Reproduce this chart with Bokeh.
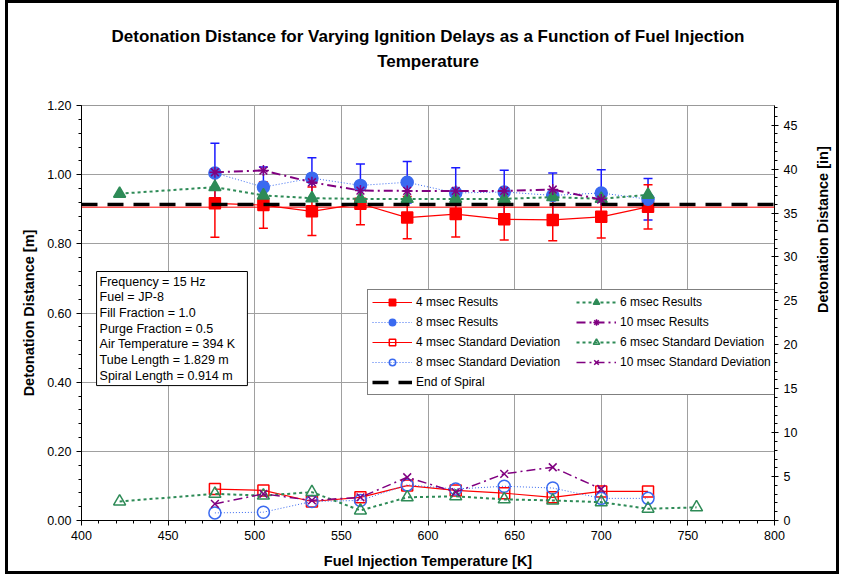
import math
from bokeh.plotting import figure
from bokeh.models import (Range1d, LinearAxis, Legend, LegendItem, Whisker, ColumnDataSource,
                          Label, Span, TeeHead, SingleIntervalTicker, FixedTicker, NumeralTickFormatter)
from bokeh.embed import file_html
from bokeh.resources import INLINE

# ---------------- data ----------------
temps = [477, 505, 533, 561, 588, 616, 644, 672, 700, 727]
temps_6 = [422, 477, 505, 533, 561, 588, 616, 644, 672, 700, 727]
temps_6_std = [422, 477, 505, 533, 561, 588, 616, 644, 672, 700, 727, 755]
temps_10 = [477, 505, 533, 561, 588, 616, 644, 672, 700]

res_4 = [0.917, 0.912, 0.894, 0.916, 0.876, 0.886, 0.871, 0.869, 0.878, 0.907]
err_4 = [0.098, 0.067, 0.070, 0.061, 0.061, 0.066, 0.060, 0.060, 0.061, 0.064]
res_8 = [1.005, 0.964, 0.990, 0.969, 0.978, 0.947, 0.950, 0.940, 0.947, 0.929]
err_8 = [0.086, 0.058, 0.059, 0.062, 0.060, 0.073, 0.063, 0.065, 0.067, 0.060]
res_6 = [0.945, 0.964, 0.940, 0.932, 0.930, 0.930, 0.930, 0.930, 0.935, 0.930, 0.942]
res_10 = [1.007, 1.012, 0.978, 0.954, 0.953, 0.953, 0.953, 0.957, 0.928]

std_4 = [0.091, 0.087, 0.055, 0.067, 0.101, 0.087, 0.079, 0.067, 0.084, 0.084]
std_8 = [0.022, 0.024, 0.055, 0.058, 0.103, 0.091, 0.099, 0.094, 0.064, 0.064]
std_6 = [0.055, 0.077, 0.072, 0.082, 0.029, 0.067, 0.070, 0.061, 0.058, 0.053, 0.034, 0.038]
std_10 = [0.048, 0.077, 0.058, 0.067, 0.125, 0.082, 0.135, 0.154, 0.091]

spiral_end = 0.914
red_ref = 0.906
x_limits = [400, 800]
y_limits = [0.0, 1.2]
y_ticks = [0.0, 0.2, 0.4, 0.6, 0.8, 1.0, 1.2]
m_to_in = 1 / 0.0254

title_lines = ["Detonation Distance for Varying Ignition Delays as a Function of Fuel Injection",
               "Temperature"]
info_lines = ["Frequency = 15 Hz", "Fuel = JP-8", "Fill Fraction = 1.0", "Purge Fraction = 0.5",
              "Air Temperature = 394 K", "Tube Length = 1.829 m", "Spiral Length = 0.914 m"]

FONT = "Liberation Sans"
RED = "#FF0000"
BLUE = "#3A6AF0"
BLUE_BAR = "#1A1AFF"
GREEN = "#2E8B57"
PURPLE = "#800080"

# ---------------- figure ----------------
p = figure(width=834, height=574, output_backend="svg", toolbar_location=None,
           x_range=Range1d(*x_limits), y_range=Range1d(*y_limits), title=None)
p.styles = {"margin-left": "5px", "border": "3px solid black"}
p.min_border_left = 73
p.min_border_right = 61
p.min_border_top = 102
p.min_border_bottom = 57
p.background_fill_color = "white"
p.border_fill_color = "white"
p.outline_line_color = "#999999"

bottom_axis = p.xaxis[0]
left_axis = p.yaxis[0]

minor_y = [round(i * 0.04, 2) for i in range(31)]
bottom_axis.ticker = SingleIntervalTicker(interval=50, num_minor_ticks=5)
left_axis.ticker = FixedTicker(ticks=y_ticks, minor_ticks=minor_y)
left_axis.formatter = NumeralTickFormatter(format="0.00")
bottom_axis.axis_label = "Fuel Injection Temperature [K]"
left_axis.axis_label = "Detonation Distance [m]"

p.extra_y_ranges = {"inch": Range1d(y_limits[0] * m_to_in, y_limits[1] * m_to_in)}
right_axis = LinearAxis(y_range_name="inch", axis_label="Detonation Distance [in]",
                        ticker=SingleIntervalTicker(interval=5, num_minor_ticks=5))
p.add_layout(right_axis, "right")
if "axis_label_orientation" in right_axis.properties():
    right_axis.axis_label_orientation = math.pi / 2

for ax in [bottom_axis, left_axis, right_axis]:
    ax.axis_line_color = "black"
    ax.major_tick_line_color = "black"
    ax.minor_tick_line_color = "black"
    ax.major_label_text_font = FONT
    ax.major_label_text_font_size = "12.5px"
    ax.major_label_text_color = "black"
    ax.axis_label_text_font = FONT
    ax.axis_label_text_font_size = "14.5px"
    ax.axis_label_text_font_style = "bold"
    ax.axis_label_text_color = "black"
    ax.major_tick_out = 5
    ax.major_tick_in = 0
    ax.minor_tick_out = 3
    ax.minor_tick_in = 0
right_axis.major_tick_in = 3
right_axis.major_tick_out = 4
bottom_axis.axis_label_standoff = 10
left_axis.axis_label_standoff = 7
right_axis.axis_label_standoff = 23

# chart title: two centred lines, drawn as labels of bare axes above the frame
for txt, stand in [(title_lines[1], 35), (title_lines[0], 3)]:
    tax = LinearAxis(ticker=FixedTicker(ticks=[]), axis_label=txt)
    tax.axis_line_color = None
    tax.major_tick_line_color = None
    tax.minor_tick_line_color = None
    tax.major_tick_out = 0
    tax.major_tick_in = 0
    tax.minor_tick_out = 0
    tax.minor_tick_in = 0
    tax.major_label_text_font_size = "0px"
    tax.axis_label_standoff = stand
    tax.axis_label_text_font = FONT
    tax.axis_label_text_font_size = "17px"
    tax.axis_label_text_font_style = "bold"
    tax.axis_label_text_color = "black"
    p.add_layout(tax, "above")

p.xgrid.grid_line_color = "#A0A0A0"
p.ygrid.grid_line_color = "#A0A0A0"
p.xgrid.grid_line_width = 1
p.ygrid.grid_line_width = 1

# red reference line across the plot
p.add_layout(Span(location=red_ref, dimension="width", line_color=RED, line_width=1))

# ---------------- error bars ----------------
src4 = ColumnDataSource(dict(x=temps, lower=[a - b for a, b in zip(res_4, err_4)],
                             upper=[a + b for a, b in zip(res_4, err_4)]))
src8 = ColumnDataSource(dict(x=temps, lower=[a - b for a, b in zip(res_8, err_8)],
                             upper=[a + b for a, b in zip(res_8, err_8)]))
w8 = Whisker(source=src8, base="x", lower="lower", upper="upper", line_color=BLUE_BAR, line_width=1.5,
             upper_head=TeeHead(size=9, line_color=BLUE_BAR, line_width=1.5),
             lower_head=TeeHead(size=9, line_color=BLUE_BAR, line_width=1.5))
w4 = Whisker(source=src4, base="x", lower="lower", upper="upper", line_color=RED, line_width=1.5,
             upper_head=TeeHead(size=9, line_color=RED, line_width=1.5),
             lower_head=TeeHead(size=9, line_color=RED, line_width=1.5))
p.add_layout(w8)
p.add_layout(w4)

# ---------------- series ----------------
items = {}

def series(key, xs, ys, color, dash, lw, marker, size, filled):
    l = p.line(xs, ys, line_color=color, line_dash=dash, line_width=lw)
    s = p.scatter(xs, ys, marker=marker, size=size, line_color=color, line_width=1.5,
                  fill_color=color if filled else None)
    items[key] = [l, s]

series("4r", temps, res_4, RED, "solid", 1.2, "square", 11, True)
series("8r", temps, res_8, BLUE, "1 2", 1, "circle", 12, True)
series("6r", temps_6, res_6, GREEN, "3 3", 2, "triangle", 12, True)
series("10r", temps_10, res_10, PURPLE, "9 4 2 4", 2, "asterisk", 11, False)
series("4s", temps, std_4, RED, "solid", 1.2, "square", 11, False)
series("8s", temps, std_8, BLUE, "1 2", 1, "circle", 12, False)
series("6s", temps_6_std, std_6, GREEN, "3 3", 2, "triangle", 12, False)
series("10s", temps_10, std_10, PURPLE, "9 4 2 4", 1.5, "x", 11, False)

spiral = p.line(x_limits, [spiral_end, spiral_end], line_color="black", line_width=3.5, line_dash="16 10")
items["sp"] = [spiral]

legend = Legend(items=[
    LegendItem(label="4 msec Results", renderers=items["4r"]),
    LegendItem(label="8 msec Results", renderers=items["8r"]),
    LegendItem(label="4 msec Standard Deviation", renderers=items["4s"]),
    LegendItem(label="8 msec Standard Deviation", renderers=items["8s"]),
    LegendItem(label="End of Spiral", renderers=items["sp"]),
    LegendItem(label="6 msec Results", renderers=items["6r"]),
    LegendItem(label="10 msec Results", renderers=items["10r"]),
    LegendItem(label="6 msec Standard Deviation", renderers=items["6s"]),
    LegendItem(label="10 msec Standard Deviation", renderers=items["10s"]),
], ncols=2, location=(286, 125))
legend.label_text_font = FONT
legend.label_text_font_size = "12px"
legend.label_text_color = "black"
legend.glyph_width = 40
legend.glyph_height = 16
legend.label_height = 16
legend.label_width = 156
legend.spacing = 4
legend.label_standoff = 4
legend.padding = 4
legend.margin = 0
legend.border_line_color = "black"
legend.border_line_width = 1
legend.background_fill_color = "white"
legend.background_fill_alpha = 1
p.add_layout(legend)

info = Label(x=408.7, y=0.72, text="\n".join(info_lines), text_align="left", text_baseline="top",
             text_font=FONT, text_font_size="12.5px", text_line_height=1.12, text_color="black",
             border_line_color="black", border_line_width=1, background_fill_color="white",
             padding=(3, 12, 3, 3))
p.add_layout(info)

open("out.html", "w").write(file_html(p, INLINE))
